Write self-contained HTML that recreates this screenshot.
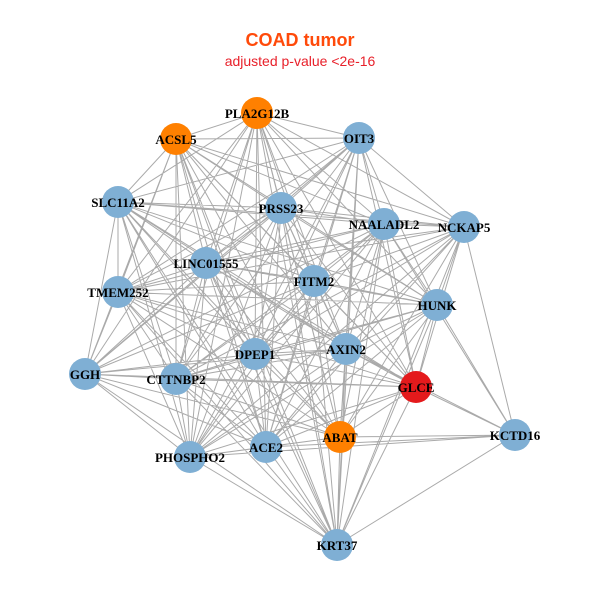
<!DOCTYPE html>
<html><head><meta charset="utf-8"><style>
body{margin:0;background:#fff}
svg{display:block}
</style></head><body>
<svg width="600" height="600" xmlns="http://www.w3.org/2000/svg">
<rect width="600" height="600" fill="#fff"/>
<text x="300" y="46" text-anchor="middle" font-family="Liberation Sans, sans-serif" font-weight="bold" font-size="18" fill="#ff4a0a">COAD tumor</text>
<text x="300" y="66" text-anchor="middle" font-family="Liberation Sans, sans-serif" font-size="14" fill="#e8202a">adjusted p-value &lt;2e-16</text>
<path fill="none" stroke="#aaaaaa" stroke-width="1" d="
M257 113L176 139M257 113L359 138M257 113L118 202M257 113L281 208M257 113L384 224M257 113L464 227M257 113L206 263M257 113L118 292M257 113L314 281M257 113L437 305M257 113L85 374M257 113L255 354M257 113L346 349M257 113L176 379M257 113L416 387M257 113L340 437M257 113L266 447M257 113L190 457M257 113L337 545
M176 139L359 138M176 139L118 202M176 139L281 208M176 139L384 224M176 139L464 227M176 139L206 263M176 139L118 292M176 139L314 281M176 139L437 305M176 139L85 374M176 139L255 354M176 139L346 349M176 139L176 379M176 139L416 387M176 139L340 437M176 139L266 447M176 139L190 457M176 139L337 545
M359 138L118 202M359 138L281 208M359 138L384 224M359 138L464 227M359 138L206 263M359 138L118 292M359 138L314 281M359 138L437 305M359 138L85 374M359 138L255 354M359 138L346 349M359 138L176 379M359 138L416 387M359 138L340 437M359 138L266 447M359 138L190 457M359 138L337 545
M118 202L281 208M118 202L384 224M118 202L464 227M118 202L206 263M118 202L118 292M118 202L314 281M118 202L437 305M118 202L85 374M118 202L255 354M118 202L346 349M118 202L176 379M118 202L416 387M118 202L340 437M118 202L266 447M118 202L190 457M118 202L337 545
M281 208L384 224M281 208L464 227M281 208L206 263M281 208L118 292M281 208L314 281M281 208L437 305M281 208L85 374M281 208L255 354M281 208L346 349M281 208L176 379M281 208L416 387M281 208L340 437M281 208L266 447M281 208L190 457M281 208L337 545
M384 224L464 227M384 224L206 263M384 224L118 292M384 224L314 281M384 224L437 305M384 224L85 374M384 224L255 354M384 224L346 349M384 224L176 379M384 224L416 387M384 224L340 437M384 224L515 435M384 224L266 447M384 224L190 457M384 224L337 545
M464 227L206 263M464 227L118 292M464 227L314 281M464 227L437 305M464 227L255 354M464 227L346 349M464 227L176 379M464 227L416 387M464 227L340 437M464 227L515 435M464 227L266 447M464 227L190 457M464 227L337 545
M206 263L118 292M206 263L314 281M206 263L437 305M206 263L85 374M206 263L255 354M206 263L346 349M206 263L176 379M206 263L416 387M206 263L340 437M206 263L266 447M206 263L190 457M206 263L337 545
M118 292L314 281M118 292L437 305M118 292L85 374M118 292L255 354M118 292L346 349M118 292L176 379M118 292L416 387M118 292L340 437M118 292L266 447M118 292L190 457M118 292L337 545
M314 281L437 305M314 281L85 374M314 281L255 354M314 281L346 349M314 281L176 379M314 281L416 387M314 281L340 437M314 281L266 447M314 281L190 457M314 281L337 545
M437 305L255 354M437 305L346 349M437 305L176 379M437 305L416 387M437 305L340 437M437 305L515 435M437 305L266 447M437 305L190 457M437 305L337 545
M85 374L255 354M85 374L346 349M85 374L176 379M85 374L416 387M85 374L340 437M85 374L266 447M85 374L190 457M85 374L337 545
M255 354L346 349M255 354L176 379M255 354L416 387M255 354L340 437M255 354L266 447M255 354L190 457M255 354L337 545
M346 349L176 379M346 349L416 387M346 349L340 437M346 349L515 435M346 349L266 447M346 349L190 457M346 349L337 545
M176 379L416 387M176 379L340 437M176 379L266 447M176 379L190 457M176 379L337 545
M416 387L340 437M416 387L515 435M416 387L266 447M416 387L190 457M416 387L337 545
M340 437L515 435M340 437L266 447M340 437L190 457M340 437L337 545
M515 435L266 447M515 435L190 457M515 435L337 545
M266 447L190 457M266 447L337 545M190 457L337 545"/>
<g fill="#7fafd4">
<circle cx="257" cy="113" r="16" fill="#ff8000"/>
<circle cx="176" cy="139" r="16" fill="#ff8000"/>
<circle cx="359" cy="138" r="16"/>
<circle cx="118" cy="202" r="16"/>
<circle cx="281" cy="208" r="16"/>
<circle cx="384" cy="224" r="16"/>
<circle cx="464" cy="227" r="16"/>
<circle cx="206" cy="263" r="16"/>
<circle cx="118" cy="292" r="16"/>
<circle cx="314" cy="281" r="16"/>
<circle cx="437" cy="305" r="16"/>
<circle cx="85" cy="374" r="16"/>
<circle cx="255" cy="354" r="16"/>
<circle cx="346" cy="349" r="16"/>
<circle cx="176" cy="379" r="16"/>
<circle cx="416" cy="387" r="16" fill="#e41a1c"/>
<circle cx="340" cy="437" r="16" fill="#ff8000"/>
<circle cx="515" cy="435" r="16"/>
<circle cx="266" cy="447" r="16"/>
<circle cx="190" cy="457" r="16"/>
<circle cx="337" cy="545" r="16"/>
</g>
<g font-family="Liberation Serif, serif" font-weight="bold" font-size="13" text-anchor="middle" fill="#000">
<text x="257" y="118">PLA2G12B</text>
<text x="176" y="144">ACSL5</text>
<text x="359" y="143">OIT3</text>
<text x="118" y="207">SLC11A2</text>
<text x="281" y="213">PRSS23</text>
<text x="384" y="229">NAALADL2</text>
<text x="464" y="232">NCKAP5</text>
<text x="206" y="268">LINC01555</text>
<text x="118" y="297">TMEM252</text>
<text x="314" y="286">FITM2</text>
<text x="437" y="310">HUNK</text>
<text x="85" y="379">GGH</text>
<text x="255" y="359">DPEP1</text>
<text x="346" y="354">AXIN2</text>
<text x="176" y="384">CTTNBP2</text>
<text x="416" y="392">GLCE</text>
<text x="340" y="442">ABAT</text>
<text x="515" y="440">KCTD16</text>
<text x="266" y="452">ACE2</text>
<text x="190" y="462">PHOSPHO2</text>
<text x="337" y="550">KRT37</text>
</g>
</svg>
</body></html>
